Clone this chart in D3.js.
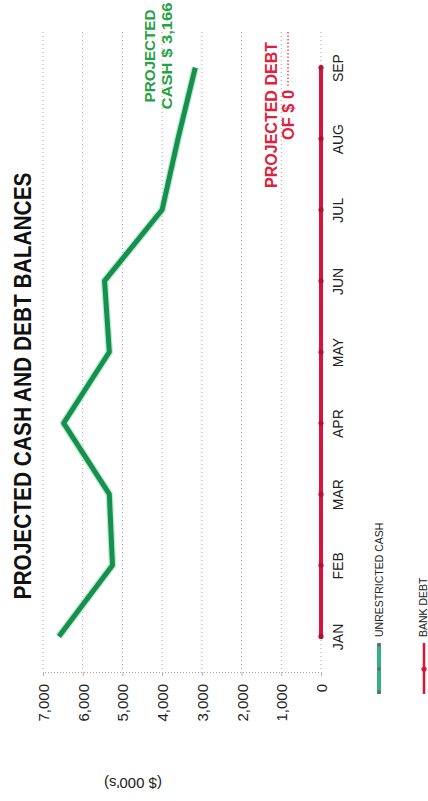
<!DOCTYPE html>
<html>
<head>
<meta charset="utf-8">
<script src="https://cdn.jsdelivr.net/npm/d3@7"></script>
<style>
  html, body { margin: 0; padding: 0; background: #fff; }
  svg { display: block; }
</style>
</head>
<body>
<svg id="chart" width="428" height="801"></svg>
<script>
// ---- data ----
const months = ["JAN", "FEB", "MAR", "APR", "MAY", "JUN", "JUL", "AUG", "SEP"];
const cashValues = [6600, 5250, 5330, 6480, 5330, 5450, 4000, 3600, 3166];
const debtValues = [0, 0, 0, 0, 0, 0, 0, 0, 0];
const valueTicks = [0, 1000, 2000, 3000, 4000, 5000, 6000, 7000];
const titleText = "PROJECTED CASH AND DEBT BALANCES";
const unitText = "($ 000's)";
const cashNote = ["PROJECTED", "CASH $ 3,166"];
const debtNote = ["PROJECTED  DEBT", "OF $ 0"];
const legendItems = ["UNRESTRICTED CASH", "BANK DEBT"];

// ---- layout (chart is drawn rotated 90° counter-clockwise) ----
const svg = d3.select("#chart");
const narrow = "'Liberation Sans Narrow', 'Arial Narrow', 'Liberation Sans', Arial, sans-serif";
const plotTop = 32, plotBottom = 672;

const x = d3.scaleLinear().domain([0, 7000]).range([321, 43]);
const y = d3.scalePoint().domain(months).range([plotBottom, plotTop]).padding(0.5);

// gridlines
svg.append("g").selectAll("line").data(valueTicks).join("line")
  .attr("x1", d => x(d)).attr("x2", d => x(d))
  .attr("y1", plotTop).attr("y2", plotBottom)
  .attr("stroke", "#a8a8a8").attr("stroke-width", 1).attr("stroke-dasharray", "1,3");

// value axis (bottom of rotated chart)
const vAxis = svg.append("g").attr("transform", `translate(0,${plotBottom})`)
  .call(d3.axisBottom(x).tickValues(valueTicks).tickFormat(d3.format(",")).tickSize(4));
vAxis.select(".domain").attr("stroke", "#a8a8a8").attr("stroke-dasharray", "1,2");
vAxis.selectAll(".tick line").attr("stroke", "#b0b0b0");
vAxis.selectAll("text")
  .attr("y", null).attr("dy", null)
  .attr("transform", "translate(0,12) rotate(-90)")
  .attr("text-anchor", "end")
  .attr("dominant-baseline", "central")
  .attr("font-family", narrow).attr("font-size", 15).attr("fill", "#222");

// month axis
const mAxis = svg.append("g").attr("transform", "translate(326,0)")
  .call(d3.axisRight(y).tickSize(0));
mAxis.select(".domain").remove();
mAxis.selectAll("text")
  .attr("x", null).attr("dy", null)
  .attr("transform", "translate(12,0) rotate(-90)")
  .attr("text-anchor", "middle")
  .attr("dominant-baseline", "central")
  .attr("font-family", narrow).attr("font-size", 14).attr("fill", "#222");

// lines
const line = d3.line().x(d => x(d.v)).y(d => y(d.m));
const cashData = months.map((m, i) => ({ m, v: cashValues[i] }));
const debtData = months.map((m, i) => ({ m, v: debtValues[i] }));

svg.append("path").datum(cashData)
  .attr("d", line).attr("fill", "none")
  .attr("stroke", "#8fe0b0").attr("stroke-width", 7.5)
  .attr("stroke-linejoin", "round").attr("opacity", 0.6);
svg.append("path").datum(cashData)
  .attr("d", line).attr("fill", "none")
  .attr("stroke", "#17904f").attr("stroke-width", 5)
  .attr("stroke-linejoin", "round");

svg.append("path").datum(debtData)
  .attr("d", line).attr("fill", "none")
  .attr("stroke", "#d9143c").attr("stroke-width", 4);
svg.append("g").selectAll("circle").data(debtData).join("circle")
  .attr("cx", d => x(d.v)).attr("cy", d => y(d.m)).attr("r", 2.6)
  .attr("fill", "#b5102f");

// title
svg.append("text")
  .attr("transform", "translate(31,386) rotate(-90)")
  .attr("text-anchor", "middle")
  .attr("font-family", "'Liberation Sans', Arial, sans-serif")
  .attr("font-weight", "bold").attr("font-size", 23)
  .attr("textLength", 427).attr("lengthAdjust", "spacingAndGlyphs")
  .attr("fill", "#111").text(titleText);

// unit label (upside down)
svg.append("text")
  .attr("transform", "translate(133,783) rotate(180)")
  .attr("text-anchor", "middle").attr("dominant-baseline", "central")
  .attr("font-family", "'Liberation Sans', Arial, sans-serif")
  .attr("font-size", 15).attr("fill", "#222").text(unitText);

// cash annotation
const cashNoteX = [155, 172];
const cashNoteLen = [93, 107];
cashNote.forEach((t, i) => {
  svg.append("text")
    .attr("transform", `translate(${cashNoteX[i]},56) rotate(-90)`)
    .attr("text-anchor", "middle")
    .attr("font-family", "'Liberation Sans', Arial, sans-serif")
    .attr("font-weight", "bold").attr("font-size", 15)
    .attr("textLength", cashNoteLen[i]).attr("lengthAdjust", "spacingAndGlyphs")
    .attr("fill", "#25a244").text(t);
});

// debt annotation
svg.append("line")
  .attr("x1", 288).attr("x2", 288).attr("y1", plotTop).attr("y2", 88)
  .attr("stroke", "#e0203c").attr("stroke-width", 1.2).attr("stroke-dasharray", "1.5,2");
const debtNoteX = [277, 294];
const debtNoteLen = [146, 50];
debtNote.forEach((t, i) => {
  svg.append("text")
    .attr("transform", `translate(${debtNoteX[i]},115) rotate(-90)`)
    .attr("text-anchor", "middle")
    .attr("font-family", "'Liberation Sans', Arial, sans-serif")
    .attr("font-weight", "bold").attr("font-size", 16)
    .attr("textLength", debtNoteLen[i]).attr("lengthAdjust", "spacingAndGlyphs")
    .attr("fill", "#e0203c").text(t);
});

// legend
const legendX = [379, 424];
const legendColors = ["#35b085", "#d9143c"];
legendItems.forEach((t, i) => {
  const g = svg.append("g");
  g.append("line")
    .attr("x1", legendX[i]).attr("x2", legendX[i])
    .attr("y1", 643).attr("y2", 694)
    .attr("stroke", legendColors[i]).attr("stroke-width", i === 0 ? 4 : 2.5);
  if (i === 0) {
    g.selectAll("circle").data([645, 669, 692]).join("circle")
      .attr("cx", legendX[i]).attr("cy", d => d).attr("r", 1.8).attr("fill", "#666");
  } else {
    g.append("circle").attr("cx", legendX[i]).attr("cy", 669).attr("r", 2.6).attr("fill", "#d9143c");
  }
  g.append("text")
    .attr("transform", `translate(${legendX[i] - (i === 0 ? 0 : 1)},637) rotate(-90)`)
    .attr("text-anchor", "start").attr("dominant-baseline", "central")
    .attr("font-family", narrow).attr("font-size", 10.5).attr("fill", "#222")
    .text(t);
});
</script>
</body>
</html>
